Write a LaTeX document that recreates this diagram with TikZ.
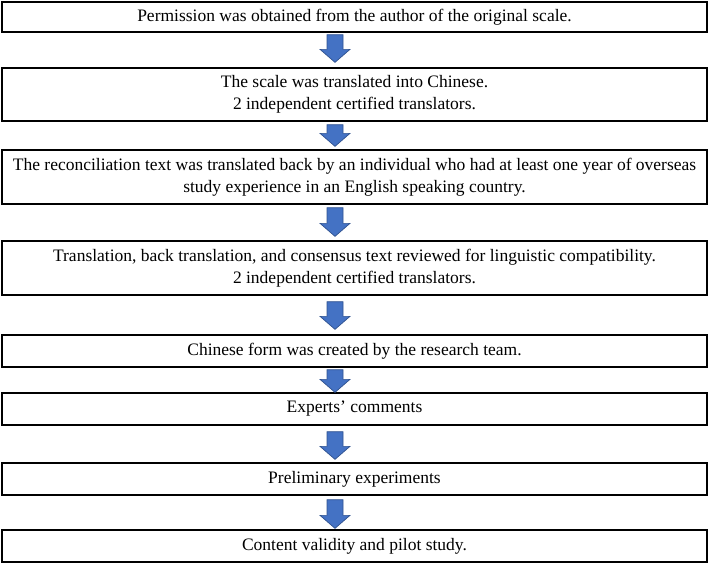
\documentclass[tikz,border=0pt]{standalone}
\usepackage{fontspec}
\setmainfont{Liberation Serif}
\usetikzlibrary{calc}
\definecolor{arrowfill}{HTML}{4472C4}
\definecolor{arrowline}{HTML}{2F528F}
\tikzset{
  stepbox/.style={draw=black, line width=1.3pt, fill=white, align=center,
    minimum width=705pt, inner sep=0pt, font=\fontsize{17.5}{22.5}\selectfont},
  blockarrow/.style={fill=arrowfill, draw=arrowline, line width=0.7pt, line join=miter}
}
% block arrow between two boxes: from, to, top gap, bottom gap
\def\ax{335pt}\def\sw{8pt}\def\hw{15pt}\def\hl{13pt}
\newcommand\flowarrow[4]{%
  \draw[blockarrow] let \p1=(#1.south), \p2=(#2.north) in
    (\ax-\sw,\y1-#3) -- (\ax+\sw,\y1-#3) -- (\ax+\sw,\y2+#4+\hl) --
    (\ax+\hw,\y2+#4+\hl) -- (\ax,\y2+#4) -- (\ax-\hw,\y2+#4+\hl) --
    (\ax-\sw,\y2+#4+\hl) -- cycle;}
\begin{document}
\begin{tikzpicture}[x=1pt, y=-1pt]
\useasboundingbox (0,0) rectangle (710,563);
\node[stepbox, minimum height=30pt] (b1) at (354.5,17)
  {Permission was obtained from the author of the original scale.};
\node[stepbox, minimum height=53pt] (b2) at (354.5,94.5)
  {The scale was translated into Chinese.\\2 independent certified translators.};
\node[stepbox, minimum height=54pt] (b3) at (354.5,177)
  {The reconciliation text was translated back by an individual who had at least one year of overseas\\study experience in an English speaking country.};
\node[stepbox, minimum height=54pt] (b4) at (354.5,268)
  {Translation, back translation, and consensus text reviewed for linguistic compatibility.\\2 independent certified translators.};
\node[stepbox, minimum height=32pt] (b5) at (354.5,351)
  {Chinese form was created by the research team.};
\node[stepbox, minimum height=32pt] (b6) at (354.5,409)
  {Experts’ comments};
\node[stepbox, minimum height=32pt] (b7) at (354.5,479)
  {Preliminary experiments};
\node[stepbox, minimum height=32pt] (b8) at (354.5,546)
  {Content validity and pilot study.};
\flowarrow{b1}{b2}{2pt}{5pt}
\flowarrow{b2}{b3}{3pt}{3pt}
\flowarrow{b3}{b4}{3pt}{4pt}
\flowarrow{b4}{b5}{6pt}{5pt}
\flowarrow{b5}{b6}{2pt}{0pt}
\flowarrow{b6}{b7}{6pt}{3pt}
\flowarrow{b7}{b8}{4pt}{1pt}
\end{tikzpicture}
\end{document}
